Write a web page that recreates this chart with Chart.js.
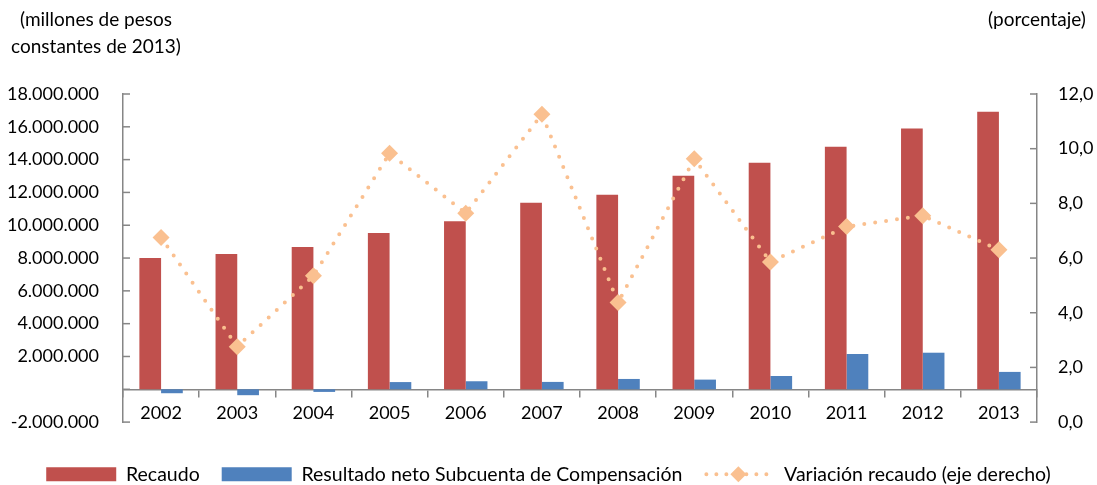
<!DOCTYPE html>
<html>
<head>
<meta charset="utf-8">
<script src="https://cdn.jsdelivr.net/npm/chart.js@4.4.1/dist/chart.umd.min.js"></script>
<style>
  html, body { margin: 0; padding: 0; background: #fff; }
</style>
</head>
<body>
<canvas id="grafico" width="1097" height="485"></canvas>
<script>
  // datos
  const anios = ['2002', '2003', '2004', '2005', '2006', '2007', '2008', '2009', '2010', '2011', '2012', '2013'];
  const recaudo = [8010000, 8250000, 8680000, 9530000, 10240000, 11370000, 11860000, 13020000, 13810000, 14790000, 15900000, 16920000];
  const resultadoNeto = [-240000, -360000, -160000, 440000, 490000, 450000, 630000, 590000, 810000, 2150000, 2230000, 1060000];
  const variacion = [6.75, 2.76, 5.35, 9.83, 7.64, 11.26, 4.37, 9.63, 5.86, 7.15, 7.55, 6.3];
  const ejeIzq = [-2000000, 18000000, 2000000];
  const ejeDer = [0, 12, 2];

  const gris = '#868686';
  const fuente = { family: 'Lato', size: 18 };

  function fmtMiles(v) {
    if (v === 0) return ''; // el cero queda tapado por el eje de categorias
    const s = Math.abs(v).toString().replace(/\B(?=(\d{3})+(?!\d))/g, '.');
    return (v < 0 ? '-' : '') + s;
  }
  function fmtPct(v) {
    return v.toFixed(1).replace('.', ',');
  }

  // marcas hacia adentro en los ejes y, titulos de ejes y muestra de la linea en la leyenda
  const extras = {
    id: 'extras',
    afterDraw(chart) {
      const c = chart.ctx;
      const a = chart.chartArea;
      c.save();
      c.strokeStyle = gris;
      c.lineWidth = 1.5;
      chart.scales.y.ticks.forEach(t => {
        const yy = chart.scales.y.getPixelForValue(t.value);
        c.beginPath(); c.moveTo(a.left, yy); c.lineTo(a.left + 7, yy); c.stroke();
      });
      chart.scales.y1.ticks.forEach(t => {
        const yy = chart.scales.y1.getPixelForValue(t.value);
        c.beginPath(); c.moveTo(a.right, yy); c.lineTo(a.right - 7, yy); c.stroke();
      });
      c.fillStyle = '#000';
      c.font = '19px Lato';
      c.textAlign = 'center';
      c.textBaseline = 'middle';
      c.fillText('(millones de pesos', 96, 20);
      c.fillText('constantes de 2013)', 96, 47);
      c.fillText('(porcentaje)', a.right, 20);

      const idx = chart.legend.legendItems.findIndex(it => it.datasetIndex === 2);
      const box = chart.legend.legendHitBoxes[idx];
      if (box) {
        const cy = box.top + box.height / 2;
        const x0 = box.left, x1 = box.left + 66;
        c.strokeStyle = '#FAC090';
        c.lineWidth = 4;
        c.lineCap = 'round';
        c.setLineDash([0, 10]);
        c.beginPath(); c.moveTo(x0 + 2, cy); c.lineTo(x1, cy); c.stroke();
        c.setLineDash([]);
        c.fillStyle = '#FAC090';
        const mx = (x0 + x1) / 2 + 1, r = 8;
        c.beginPath();
        c.moveTo(mx, cy - r); c.lineTo(mx + r, cy); c.lineTo(mx, cy + r); c.lineTo(mx - r, cy);
        c.closePath(); c.fill();
      }
      c.restore();
    }
  };

  new Chart(document.getElementById('grafico'), {
    type: 'bar',
    data: {
      labels: anios,
      datasets: [
        {
          label: 'Recaudo',
          data: recaudo,
          backgroundColor: '#C0504D',
          yAxisID: 'y',
          order: 2
        },
        {
          label: 'Resultado neto Subcuenta de Compensación',
          data: resultadoNeto,
          backgroundColor: '#4F81BD',
          yAxisID: 'y',
          order: 2
        },
        {
          type: 'line',
          label: 'Variación recaudo (eje derecho)',
          data: variacion,
          yAxisID: 'y1',
          borderColor: '#FAC090',
          backgroundColor: '#FAC090',
          borderWidth: 4,
          borderDash: [0, 11],
          borderCapStyle: 'round',
          pointStyle: 'rectRot',
          pointRadius: 8.5,
          pointBorderWidth: 0,
          tension: 0,
          order: 1
        }
      ]
    },
    options: {
      responsive: false,
      animation: false,
      devicePixelRatio: 1,
      layout: { padding: { top: 94, left: 0, right: 0, bottom: -9 } },
      datasets: { bar: { barPercentage: 1, categoryPercentage: 0.57 } },
      plugins: {
        tooltip: { enabled: false },
        legend: {
          position: 'bottom',
          title: { display: true, text: '', font: { size: 12 }, padding: { top: 6, bottom: 0 } },
          labels: {
            boxWidth: 70,
            boxHeight: 14,
            padding: 22,
            color: '#000',
            font: { family: 'Lato', size: 19.5 },
            sort: (a, b) => a.datasetIndex - b.datasetIndex,
            generateLabels(chart) {
              const items = Chart.defaults.plugins.legend.labels.generateLabels(chart);
              items.forEach(it => { it.lineWidth = 0; it.strokeStyle = 'rgba(0,0,0,0)'; });
              const linea = items.find(it => it.datasetIndex === 2);
              linea.fillStyle = 'rgba(0,0,0,0)';
              linea.lineDash = [];
              return items;
            }
          }
        }
      },
      scales: {
        x: {
          type: 'category',
          position: { y: 0 },
          offset: true,
          grid: { offset: true, drawOnChartArea: false, drawTicks: true, tickLength: 7, color: gris, lineWidth: 1.5 },
          border: { display: true, color: gris, width: 1.5 },
          ticks: { color: '#000', font: fuente, padding: 6 }
        },
        y: {
          position: 'left',
          min: ejeIzq[0],
          max: ejeIzq[1],
          ticks: { stepSize: ejeIzq[2], callback: v => fmtMiles(v), color: '#000', font: fuente, padding: 16 },
          grid: { display: false },
          border: { display: true, color: gris, width: 1.5 },
          afterFit(s) { s.width = 123; }
        },
        y1: {
          position: 'right',
          min: ejeDer[0],
          max: ejeDer[1],
          ticks: { stepSize: ejeDer[2], callback: v => fmtPct(v), color: '#000', font: fuente, padding: 13 },
          grid: { display: false },
          border: { display: true, color: gris, width: 1.5 },
          afterFit(s) { s.width = 60; }
        }
      }
    },
    plugins: [extras]
  });
</script>
</body>
</html>
